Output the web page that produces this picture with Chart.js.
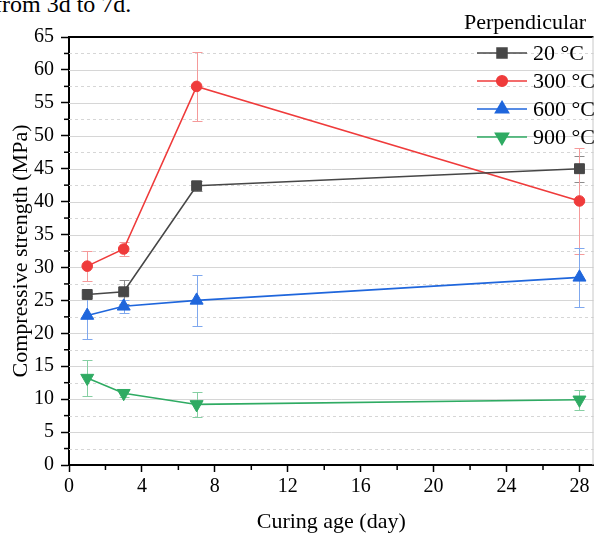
<!DOCTYPE html>
<html>
<head>
<meta charset="utf-8">
<script src="https://cdn.jsdelivr.net/npm/chart.js@4.4.1/dist/chart.umd.min.js"></script>
<style>
  html, body { margin: 0; padding: 0; background: #fff; overflow: hidden; }
  #wrap { position: relative; width: 602px; height: 537px; }
  #clip { position: absolute; left: -6px; top: -9px; font: 24px "Liberation Serif", serif; color: #000; white-space: nowrap; }
  canvas { position: absolute; left: 0; top: 0; }
</style>
</head>
<body>
<div id="wrap">
  <div id="clip">from 3d to 7d.</div>
  <canvas id="chart" width="602" height="537"></canvas>
</div>
<script>
// curing ages (days)
const ages = [1, 3, 7, 28];

// compressive strength (MPa) and error (+/-) per temperature
const s20 = [25.9, 26.3, 42.4, 45.0];
const e20 = [0.3, 1.8, 0.8, 2.0];
const s300 = [30.2, 32.8, 57.5, 40.1];
const e300 = [2.3, 1.0, 5.2, 8.0];
const s600 = [22.7, 24.1, 25.0, 28.5];
const e600 = [3.5, 1.0, 3.9, 4.5];
const s900 = [13.2, 10.9, 9.2, 9.9];
const e900 = [2.7, 0.5, 1.9, 1.5];

// axis ticks
const xMajor = [0, 4, 8, 12, 16, 20, 24, 28];
const xMinor = [2, 6, 10, 14, 18, 22, 26];
const yMajor = [0, 5, 10, 15, 20, 25, 30, 35, 40, 45, 50, 55, 60, 65];
const yMinor = [2.5, 7.5, 12.5, 17.5, 22.5, 27.5, 32.5, 37.5, 42.5, 47.5, 52.5, 57.5, 62.5];

const serif = '"Liberation Serif", "Times New Roman", serif';

function makeSet(label, vals, errs, color, errColor, style, radius, rotation) {
  return {
    label: label,
    data: ages.map((a, i) => ({ x: a, y: vals[i] })),
    errors: errs,
    errColor: errColor,
    borderColor: color,
    backgroundColor: color,
    pointBackgroundColor: color,
    pointBorderColor: color,
    pointStyle: style,
    pointRadius: radius,
    pointHoverRadius: radius,
    pointRotation: rotation || 0,
    pointBorderWidth: 1,
    borderWidth: 1.6,
    tension: 0
  };
}

// horizontal grid lines (solid major, dashed minor)
const gridPlugin = {
  id: 'hgrid',
  beforeDatasetsDraw(chart) {
    const ctx = chart.ctx, a = chart.chartArea, y = chart.scales.y;
    ctx.save();
    ctx.lineWidth = 1;
    ctx.strokeStyle = '#d6d6d6';
    yMajor.forEach(v => {
      if (v === 0 || v === 65) return;
      const py = Math.round(y.getPixelForValue(v)) + 0.5;
      ctx.beginPath(); ctx.moveTo(a.left, py); ctx.lineTo(a.right, py); ctx.stroke();
    });
    ctx.setLineDash([3, 3]);
    yMinor.forEach(v => {
      const py = Math.round(y.getPixelForValue(v)) + 0.5;
      ctx.beginPath(); ctx.moveTo(a.left, py); ctx.lineTo(a.right, py); ctx.stroke();
    });
    ctx.restore();
  }
};

// error bars with caps
const errorPlugin = {
  id: 'errbars',
  beforeDatasetsDraw(chart) {
    const ctx = chart.ctx, xs = chart.scales.x, ys = chart.scales.y;
    ctx.save();
    ctx.lineWidth = 1;
    chart.data.datasets.forEach(ds => {
      ctx.strokeStyle = ds.errColor;
      ds.data.forEach((p, i) => {
        const e = ds.errors[i];
        const px = Math.round(xs.getPixelForValue(p.x)) + 0.5;
        const top = Math.round(ys.getPixelForValue(p.y + e)) + 0.5;
        const bot = Math.round(ys.getPixelForValue(p.y - e)) + 0.5;
        ctx.beginPath();
        ctx.moveTo(px, top); ctx.lineTo(px, bot);
        ctx.moveTo(px - 5, top); ctx.lineTo(px + 5, top);
        ctx.moveTo(px - 5, bot); ctx.lineTo(px + 5, bot);
        ctx.stroke();
      });
    });
    ctx.restore();
  }
};

// frame, minor ticks and legend
const framePlugin = {
  id: 'frame',
  afterDraw(chart) {
    const ctx = chart.ctx, a = chart.chartArea, xs = chart.scales.x, ys = chart.scales.y;
    ctx.save();
    // top border
    ctx.strokeStyle = '#000';
    ctx.lineWidth = 2;
    ctx.beginPath(); ctx.moveTo(a.left, a.top); ctx.lineTo(a.right, a.top); ctx.stroke();
    // right border (light)
    ctx.strokeStyle = '#c8c8c8';
    ctx.lineWidth = 1;
    ctx.beginPath(); ctx.moveTo(a.right - 0.5, a.top); ctx.lineTo(a.right - 0.5, a.bottom); ctx.stroke();
    // minor ticks
    ctx.strokeStyle = '#000';
    ctx.lineWidth = 1.5;
    yMinor.forEach(v => {
      const py = ys.getPixelForValue(v);
      ctx.beginPath(); ctx.moveTo(a.left - 1, py); ctx.lineTo(a.left - 5, py); ctx.stroke();
    });
    xMinor.forEach(v => {
      const px = xs.getPixelForValue(v);
      ctx.beginPath(); ctx.moveTo(px, a.bottom + 1); ctx.lineTo(px, a.bottom + 5); ctx.stroke();
    });

    // legend
    ctx.fillStyle = '#000';
    ctx.font = '22px ' + serif;
    ctx.textBaseline = 'middle';
    ctx.textAlign = 'left';
    ctx.fillText('Perpendicular', 464, 23);
    const rowY = [53, 81, 109, 137];
    chart.data.datasets.forEach((ds, i) => {
      const y = rowY[i];
      ctx.strokeStyle = ds.borderColor;
      ctx.lineWidth = ds.borderWidth;
      ctx.beginPath(); ctx.moveTo(477, y); ctx.lineTo(527, y); ctx.stroke();
      ctx.fillStyle = ds.pointBackgroundColor;
      Chart.helpers.drawPoint(ctx, {
        pointStyle: ds.pointStyle, rotation: ds.pointRotation,
        radius: ds.pointRadius, borderWidth: 1
      }, 502, y);
      ctx.fillStyle = '#000';
      ctx.fillText(ds.label, 533, y + 1);
    });
    ctx.restore();
  }
};

new Chart(document.getElementById('chart'), {
  type: 'line',
  data: {
    datasets: [
      makeSet('20 °C', s20, e20, '#474747', '#8c8c8c', 'rect', 7),
      makeSet('300 °C', s300, e300, '#ef3b3b', '#f59a9a', 'circle', 5.3),
      makeSet('600 °C', s600, e600, '#1f66dc', '#7fa8ee', 'triangle', 7.5),
      makeSet('900 °C', s900, e900, '#2fab63', '#86cfa3', 'triangle', 7.5, 180)
    ]
  },
  plugins: [gridPlugin, errorPlugin, framePlugin],
  options: {
    responsive: false,
    animation: false,
    layout: { padding: { top: 37, right: 4, left: 0, bottom: 0 } },
    plugins: { legend: { display: false }, tooltip: { enabled: false } },
    scales: {
      x: {
        type: 'linear',
        min: 0,
        max: 28.77,
        afterBuildTicks: s => { s.ticks = xMajor.map(v => ({ value: v })); },
        afterFit: s => { s.height = 72; },
        border: { color: '#000', width: 2 },
        grid: { drawOnChartArea: false, drawTicks: true, tickLength: 7, tickColor: '#000', tickWidth: 1.5 },
        ticks: { autoSkip: false, maxRotation: 0, padding: 3, color: '#000', font: { family: serif, size: 20 } },
        title: { display: true, text: 'Curing age (day)', color: '#000', font: { family: serif, size: 22 }, padding: { top: 0, bottom: 2 } }
      },
      y: {
        min: 0,
        max: 65,
        afterBuildTicks: s => { s.ticks = yMajor.map(v => ({ value: v })); },
        afterFit: s => { s.width = 69; },
        border: { color: '#000', width: 2 },
        grid: { drawOnChartArea: false, drawTicks: true, tickLength: 8, tickColor: '#000', tickWidth: 1.5 },
        ticks: { autoSkip: false, padding: 7, color: '#000', font: { family: serif, size: 20 } },
        title: { display: true, text: 'Compressive strength (MPa)', color: '#000', font: { family: serif, size: 22 }, padding: { top: 8, bottom: 0 } }
      }
    }
  }
});
</script>
</body>
</html>
